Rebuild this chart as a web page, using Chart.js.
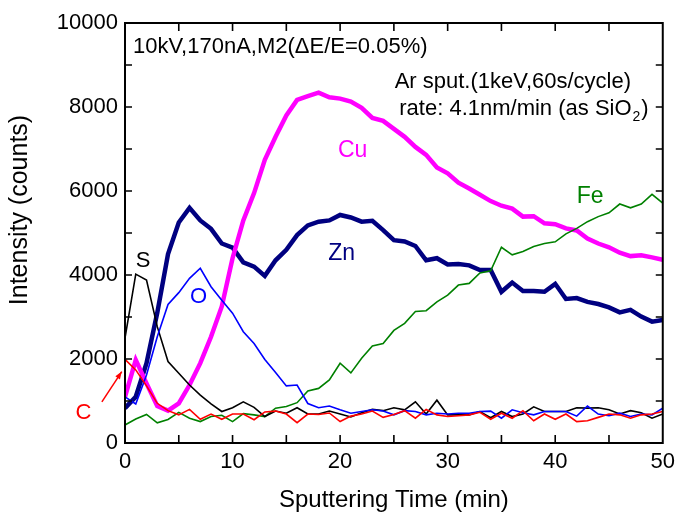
<!DOCTYPE html>
<html>
<head>
<meta charset="utf-8">
<script src="https://cdn.jsdelivr.net/npm/chart.js@4.4.1/dist/chart.umd.min.js"></script>
<style>
  html, body { margin: 0; padding: 0; background: #fff; }
</style>
</head>
<body>
<canvas id="myChart" width="681" height="517"></canvas>
<script>
const time = [0, 1, 2, 3, 4, 5, 6, 7, 8, 9, 10, 11, 12, 13, 14, 15, 16, 17, 18, 19, 20,
  21, 22, 23, 24, 25, 26, 27, 28, 29, 30, 31, 32, 33, 34, 35, 36, 37, 38, 39, 40,
  41, 42, 43, 44, 45, 46, 47, 48, 49, 50];

const zn = [830, 1100, 1900, 3100, 4500, 5250, 5600, 5300, 5100, 4750,
  4650, 4300, 4200, 3980, 4350, 4600, 4950, 5180, 5270, 5300,
  5430, 5370, 5270, 5290, 5070, 4830, 4800, 4690, 4350, 4400,
  4250, 4260, 4230, 4120, 4120, 3600, 3820, 3620, 3620, 3600,
  3790, 3430, 3450, 3360, 3310, 3230, 3110, 3170, 3010, 2890, 2930];
const cu = [1100, 1980, 1420, 880, 770, 945, 1380, 1900, 2530, 3250,
  4400, 5300, 5950, 6740, 7290, 7800, 8170, 8260, 8340, 8230,
  8200, 8130, 7980, 7740, 7670, 7480, 7290, 7050, 6860, 6560,
  6420, 6200, 6060, 5910, 5760, 5650, 5580, 5390, 5400, 5230,
  5210, 5110, 5060, 4870, 4750, 4660, 4530, 4450, 4470, 4420, 4360];
const fe = [430, 570, 680, 480, 560, 730, 590, 510, 630, 660,
  510, 700, 670, 630, 830, 870, 960, 1240, 1300, 1500,
  1900, 1670, 2020, 2310, 2370, 2680, 2850, 3130, 3150, 3360,
  3520, 3760, 3800, 4050, 4100, 4660, 4480, 4560, 4680, 4750,
  4790, 4980, 5110, 5270, 5390, 5480, 5690, 5600, 5690, 5920, 5710];
const s = [2500, 4020, 3880, 2770, 1940, 1660, 1380, 1140, 930, 750,
  840, 980, 850, 630, 760, 710, 840, 690, 690, 760,
  690, 620, 720, 800, 770, 840, 790, 980, 690, 1020,
  670, 670, 670, 750, 600, 750, 630, 690, 860, 750,
  750, 750, 840, 830, 840, 790, 690, 770, 720, 590, 690];
const o = [1100, 930, 1620, 2530, 3300, 3580, 3920, 4160, 3720, 3400,
  3090, 2650, 2370, 1990, 1680, 1360, 1380, 940, 840, 880,
  790, 710, 750, 790, 760, 670, 770, 750, 670, 710,
  690, 710, 710, 750, 760, 590, 790, 720, 670, 750,
  750, 750, 640, 880, 690, 650, 710, 630, 690, 670, 830];
const c = [1990, 1740, 1360, 945, 770, 670, 800, 565, 690, 565,
  690, 690, 555, 740, 760, 690, 485, 690, 680, 715,
  510, 640, 690, 760, 610, 680, 770, 590, 800, 670,
  630, 650, 670, 730, 565, 710, 590, 770, 530, 690,
  565, 690, 510, 530, 610, 690, 670, 590, 670, 690, 750];

const FONT = "'Liberation Sans', Arial, sans-serif";
Chart.defaults.font.family = FONT;
Chart.defaults.color = "#000";

function pts(values) {
  return values.map((v, i) => ({ x: time[i], y: v }));
}

function line(label, values, color, width) {
  return {
    label: label,
    data: pts(values),
    borderColor: color,
    borderWidth: width,
    pointRadius: 0,
    tension: 0,
    fill: false,
  };
}

// labels placed in data units: [text, x, y, colour, size]
const labels = [
  ["Cu", 19.8, 6820, "#ff00ff", 23],
  ["Zn", 18.9, 4360, "#000080", 23],
  ["Fe", 42.0, 5710, "#008000", 23],
  ["S", 1.0, 4200, "#000", 22],
  ["O", 6.05, 3330, "#0000ff", 22],
  ["C", -4.6, 565, "#ff0000", 22],
];

const decor = {
  id: "decor",
  afterDatasetsDraw(chart) {
    const { ctx, chartArea: a, scales } = chart;
    const x = scales.x, y = scales.y;
    const px = (v) => x.getPixelForValue(v);
    const py = (v) => y.getPixelForValue(v);
    ctx.save();

    // frame + inward ticks
    ctx.strokeStyle = "#000";
    ctx.lineWidth = 1.6;
    ctx.beginPath();
    for (let v = 5; v < 50; v += 5) {
      ctx.moveTo(px(v), a.bottom); ctx.lineTo(px(v), a.bottom - 8);
      ctx.moveTo(px(v), a.top); ctx.lineTo(px(v), a.top + 8);
    }
    for (let v = 1000; v < 10000; v += 1000) {
      ctx.moveTo(a.left, py(v)); ctx.lineTo(a.left + 7, py(v));
      ctx.moveTo(a.right, py(v)); ctx.lineTo(a.right - 7, py(v));
    }
    ctx.stroke();
    ctx.lineWidth = 2;
    ctx.strokeRect(a.left, a.top, a.right - a.left, a.bottom - a.top);

    // text inside
    ctx.textBaseline = "alphabetic";
    ctx.textAlign = "left";
    ctx.fillStyle = "#000";
    ctx.font = "22px " + FONT;
    ctx.fillText("10kV,170nA,M2(\u0394E/E=0.05%)", px(0.74), py(9290));
    ctx.fillText("Ar sput.(1keV,60s/cycle)", px(25.07), py(8450));
    const rx = px(25.5), ry = py(7810);
    const main = "rate: 4.1nm/min (as SiO";
    ctx.fillText(main, rx, ry);
    let w = ctx.measureText(main).width;
    ctx.font = "14px " + FONT;
    ctx.fillText("2", rx + w + 1, ry + 6);
    w += ctx.measureText("2").width + 2;
    ctx.font = "22px " + FONT;
    ctx.fillText(")", rx + w, ry);

    labels.forEach(([t, lx, ly, col, size]) => {
      ctx.fillStyle = col;
      ctx.font = size + "px " + FONT;
      ctx.fillText(t, px(lx), py(ly));
    });

    // red arrow pointing to C curve
    const x0 = px(-2.15), y0 = py(980), x1 = px(-0.3), y1 = py(1700);
    ctx.strokeStyle = "#ff0000";
    ctx.fillStyle = "#ff0000";
    ctx.lineWidth = 1.5;
    ctx.beginPath();
    ctx.moveTo(x0, y0);
    ctx.lineTo(x1, y1);
    ctx.stroke();
    const ang = Math.atan2(y1 - y0, x1 - x0);
    ctx.beginPath();
    ctx.moveTo(x1, y1);
    ctx.lineTo(x1 - 8 * Math.cos(ang - 0.35), y1 - 8 * Math.sin(ang - 0.35));
    ctx.lineTo(x1 - 8 * Math.cos(ang + 0.35), y1 - 8 * Math.sin(ang + 0.35));
    ctx.closePath();
    ctx.fill();

    // axis titles
    ctx.fillStyle = "#000";
    ctx.font = "24px " + FONT;
    ctx.textAlign = "center";
    ctx.textBaseline = "middle";
    ctx.fillText("Sputtering Time (min)", (a.left + a.right) / 2, 500);
    ctx.translate(20, 210);
    ctx.rotate(-Math.PI / 2);
    ctx.font = "25px " + FONT;
    ctx.fillText("Intensity (counts)", 0, 0);

    ctx.restore();
  },
};

const ctx = document.getElementById("myChart");

const chart = new Chart(ctx, {
  type: "line",
  data: {
    datasets: [
      line("C", c, "#ff0000", 1.6),
      line("O", o, "#0000ff", 1.6),
      line("S", s, "#000000", 1.6),
      line("Fe", fe, "#008000", 1.6),
      line("Cu", cu, "#ff00ff", 4.5),
      line("Zn", zn, "#000080", 4.5),
    ],
  },
  options: {
    responsive: false,
    animation: false,
    layout: { padding: { left: 0, right: 13, top: 23, bottom: 0 } },
    plugins: { legend: { display: false }, tooltip: { enabled: false } },
    scales: {
      x: {
        type: "linear",
        min: 0,
        max: 50,
        ticks: { stepSize: 10, padding: 6, maxRotation: 0, font: { size: 22 } },
        grid: { display: false, drawTicks: false },
        border: { display: false },
        afterFit(scale) { scale.height = 74; },
      },
      y: {
        min: 0,
        max: 10000,
        ticks: {
          stepSize: 2000,
          padding: 7,
          font: { size: 22 },
          callback: (value) => String(value),
        },
        grid: { display: false, drawTicks: false },
        border: { display: false },
        afterFit(scale) { scale.width = 125; },
      },
    },
  },
  plugins: [decor],
});
</script>
</body>
</html>
